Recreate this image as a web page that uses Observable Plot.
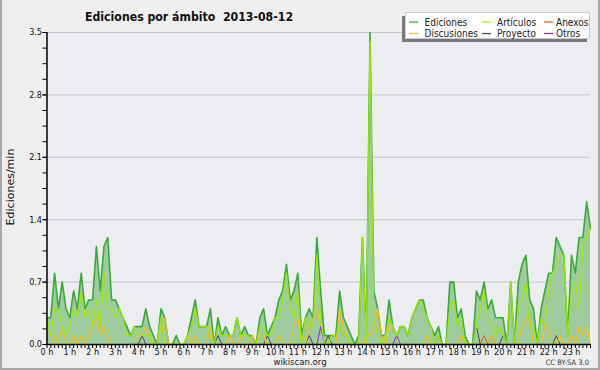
<!DOCTYPE html>
<html><head><meta charset="utf-8">
<script src="https://cdn.jsdelivr.net/npm/d3@7"></script>
<script src="https://cdn.jsdelivr.net/npm/@observablehq/plot@0.6"></script>
<style>
body{margin:0;background:#efefef;}
#chart{position:relative;width:600px;height:370px;overflow:hidden;}
#chart svg{position:absolute;left:0;top:0;}
#border{position:absolute;left:0;top:0;width:600px;height:370px;box-sizing:border-box;border-left:2px solid #a8a8a8;border-right:2px solid #a8a8a8;border-bottom:2px solid #a8a8a8;pointer-events:none;}
</style></head><body><div id="chart"><div id="border"></div></div>
<script>
const title = "Ediciones por ámbito  2013-08-12";
const yLabel = "Ediciones/min";
const hourTicks = [0,1,2,3,4,5,6,7,8,9,10,11,12,13,14,15,16,17,18,19,20,21,22,23];
const yTicks = [0, 0.7, 1.4, 2.1, 2.8, 3.5];
const seriesNames = ["Ediciones","Artículos","Anexos","Discusiones","Proyecto","Otros"];
const seriesColors = ["#3ea83e","#9be60f","#ee5a26","#f0c020","#4a4a4a","#8a2be2"];

// 10-minute buckets, edits per minute
const ediciones = [
0.3,0.3,0.8,0.4,0.7,0.4,0.3,0.6,0.4,0.8,0.4,0.5,
0.5,1.1,0.6,1.1,1.2,0.5,0.5,0.4,0.3,0.2,0.1,0.2,
0.2,0.2,0.4,0.2,0.1,0,0.4,0.3,0,0,0.1,0,
0,0.1,0.3,0.5,0.2,0.2,0.2,0.4,0,0.3,0.1,0.2,
0.1,0.1,0.3,0.1,0.2,0.1,0.1,0,0.3,0.4,0.1,0.2,
0.3,0.5,0.6,0.9,0.5,0.6,0.8,0.1,0.3,0.4,0.3,1.2,
0.6,0.1,0.1,0.1,0.1,0.6,0.3,0.2,0.1,0,0.1,1.2,
0.1,3.5,0.6,0.4,0.1,0.1,0.5,0.2,0.1,0.2,0.2,0.1,
0.3,0.4,0.5,0.5,0.3,0.2,0.1,0.2,0,0,0.7,0.7,
0.3,0.4,0.1,0,0,0.6,0.5,0.7,0.4,0.5,0.3,0.3,
0.3,0,0.7,0,0.7,0.9,1.0,0.5,0.4,0,0.4,0.6,
0.8,0.8,1.2,1.1,1.0,0.1,1.0,0.8,1.2,1.2,1.6,1.3];
const articulos = [
0.3,0.1,0.4,0.4,0.2,0.1,0.2,0.4,0.3,0.6,0.3,0.4,
0.2,0.5,0.2,0.8,0.4,0.4,0.3,0.4,0.3,0.1,0.1,0.2,
0.1,0.1,0.1,0.1,0,0,0.3,0,0,0,0,0,
0,0.1,0.2,0.4,0.2,0.2,0.2,0.1,0,0.2,0.1,0.1,
0.1,0.1,0.3,0.1,0.1,0.1,0,0,0.2,0.2,0.1,0.1,
0.3,0.3,0.5,0.8,0.4,0.3,0.6,0,0.3,0.2,0.2,1.0,
0.3,0,0,0.1,0.1,0.2,0.1,0.1,0,0,0,1.2,
0,3.4,0.3,0.1,0,0.1,0.3,0.2,0.1,0.2,0.2,0.1,
0.3,0.4,0.5,0.4,0.3,0.2,0,0.1,0,0,0.4,0.5,
0.2,0.3,0,0,0,0.2,0.4,0.6,0.3,0.2,0.1,0.2,
0.1,0,0.7,0,0.4,0.5,0.7,0.2,0.2,0,0.3,0.2,
0.6,0.8,0.9,1.0,1.0,0.1,0.6,0.7,0.4,1.1,1.2,1.3];
const discusiones = [
0,0,0.1,0,0.2,0,0,0.1,0,0.1,0,0.1,
0.2,0.3,0.1,0.2,0.1,0,0,0,0,0,0,0,
0.1,0.1,0.2,0.1,0,0,0.2,0.3,0,0,0,0,
0,0.1,0,0.1,0,0,0,0.2,0,0,0,0,
0.1,0,0,0.1,0,0,0.1,0,0.1,0.1,0,0,
0,0.1,0,0,0,0.2,0.3,0,0,0.2,0.3,0.4,
0.2,0,0,0,0,0.4,0.2,0.1,0,0,0,0,
0.1,0.1,0.2,0.4,0.1,0,0.2,0.2,0.1,0,0,0,
0,0,0,0,0.1,0,0,0,0,0,0,0,
0,0.1,0,0,0,0,0,0,0,0.1,0,0,
0,0,0,0,0,0.2,0.3,0.3,0,0,0,0.2,
0.2,0,0,0.1,0,0,0.1,0,0.2,0.1,0.2,0];
const proyecto = [
0,0,0,0,0,0,0,0,0,0,0,0,
0,0,0,0,0,0,0,0,0,0,0,0,
0,0.1,0,0,0,0,0,0,0,0,0,0,
0,0,0,0,0,0,0,0,0,0.1,0,0,
0,0,0,0,0,0,0,0,0,0,0.1,0,
0,0,0,0,0,0,0,0,0,0.1,0,0,
0,0,0.1,0,0,0,0,0,0,0,0,0,
0,0,0,0,0,0,0,0,0,0,0,0,
0,0,0,0,0,0,0,0.1,0,0,0,0,
0,0,0,0,0,0.2,0,0,0,0.1,0,0,
0.1,0,0,0,0,0,0,0,0,0,0,0,
0,0,0.1,0,0,0,0,0,0,0,0,0];
const otros = [
0,0,0,0,0,0,0,0,0,0,0,0,
0,0,0,0,0,0,0,0,0,0,0,0,
0,0,0,0,0,0,0,0,0,0,0,0,
0,0,0,0,0,0,0,0,0,0,0,0,
0,0,0,0,0,0,0,0,0,0,0,0,
0,0,0,0,0,0,0,0,0,0,0,0,
0.2,0,0,0,0,0,0,0,0,0,0,0,
0,0,0,0,0,0,0,0,0.1,0,0,0,
0,0,0,0,0,0,0,0,0,0,0,0,
0,0,0,0,0,0,0,0,0,0,0,0,
0,0,0,0,0,0,0,0,0,0,0,0,
0,0,0,0,0,0,0,0,0,0,0,0];
const anexos = [
0,0,0,0,0,0,0,0,0,0,0,0,
0,0,0,0,0,0,0,0,0,0,0,0,
0,0,0,0,0,0,0,0,0,0,0,0,
0,0,0,0,0,0,0,0,0,0,0,0,
0,0,0,0,0,0,0,0,0,0,0,0,
0,0,0,0,0,0,0,0,0,0,0,0,
0,0,0,0,0,0,0,0,0,0,0,0,
0,0,0,0,0,0,0,0,0,0,0,0,
0,0,0,0,0,0,0,0,0,0,0,0,
0,0,0,0,0,0,0,0.1,0,0,0,0,
0,0,0,0,0,0,0,0,0,0,0,0,
0,0,0,0,0,0,0,0,0,0,0,0];

const rows = ediciones.map((e,i)=>({t:i*10, e, a:articulos[i], d:discusiones[i], p:proyecto[i], o:otros[i], x:anexos[i]}));
const minorY = d3.range(0, 3.5001, 0.175);
const minorX = rows.map(r=>r.t);
const font = "'DejaVu Sans Condensed','DejaVu Sans',sans-serif";

const chart = Plot.plot({
  width:600, height:370,
  marginLeft:46.5, marginRight:10, marginTop:32, marginBottom:26,
  style:{background:"transparent", fontFamily:font, fontSize:"9px", color:"#111", overflow:"visible"},
  x:{domain:[0,1430]},
  y:{domain:[0,3.5]},
  marks:[
    Plot.frame({fill:"#ecedf0", stroke:null}),
    Plot.gridY(yTicks.slice(1), {stroke:"#c6c6c6", strokeOpacity:1}),
    Plot.areaY(rows,{x:"t", y:"e", fill:"#9fcc9f", fillOpacity:1}),
    Plot.lineY(rows,{x:"t", y:"e", stroke:seriesColors[0], strokeWidth:1.6}),
    Plot.lineY(rows,{x:"t", y:"p", stroke:seriesColors[4], strokeWidth:1}),
    Plot.lineY(rows,{x:"t", y:"d", stroke:seriesColors[3], strokeWidth:1.2}),
    Plot.lineY(rows,{x:"t", y:"x", stroke:seriesColors[2], strokeWidth:1}),
    Plot.lineY(rows,{x:"t", y:"o", stroke:seriesColors[5], strokeWidth:1}),
    Plot.lineY(rows,{x:"t", y:"a", stroke:seriesColors[1], strokeWidth:1.3}),
    Plot.ruleY([0],{stroke:"#000", strokeWidth:1.5}),
    Plot.ruleX([0],{stroke:"#000", strokeWidth:1.5}),
    Plot.axisY(minorY,{tickSize:4, tickFormat:()=>"", label:null, stroke:"#000"}),
    Plot.axisY(yTicks,{tickSize:4, tickPadding:1, tickFormat:d=>d.toFixed(1), label:null, fontSize:9, stroke:"#000"}),
    Plot.axisX(minorX,{tickSize:4, tickFormat:()=>"", label:null, stroke:"#000"}),
    Plot.axisX(hourTicks.map(h=>h*60),{tickSize:0, tickPadding:4, tickFormat:m=>(m/60)+" h", label:null, fontSize:9})
  ]
});
document.getElementById("chart").prepend(chart);

const svg = d3.select(chart);
svg.append("text").attr("x",85).attr("y",21).attr("text-anchor","start").attr("font-family",font).attr("font-weight","bold")
  .attr("font-size",12.2).attr("fill","#111").text(title);
svg.append("text").attr("transform","translate(14,187) rotate(-90)").attr("text-anchor","middle")
  .attr("font-family","'DejaVu Sans',sans-serif").attr("font-size",11).attr("fill","#111").text(yLabel);
svg.append("text").attr("x",300).attr("y",365).attr("text-anchor","middle").attr("font-family",font)
  .attr("font-size",9.5).attr("fill","#222").text("wikiscan.org");
svg.append("text").attr("x",589).attr("y",364.5).attr("text-anchor","end").attr("font-family",font)
  .attr("font-size",7.5).attr("fill","#333").text("CC BY-SA 3.0");

// legend
const lg = svg.append("g");
lg.append("rect").attr("x",402).attr("y",16).attr("width",185).attr("height",26).attr("fill","#7a7a7a");
lg.append("rect").attr("x",405.5).attr("y",12.5).attr("width",184).attr("height",26).attr("fill","#fff").attr("stroke","#c8c8c8");
const lx = [[409,424.5],[482,497],[544,556]];
const order = [[0,1,2],[3,4,5]];
order.forEach((row,r)=>{
  const y = r===0 ? 22 : 33.5;
  row.forEach((s,c)=>{
    lg.append("line").attr("x1",lx[c][0]).attr("x2",lx[c][0]+9).attr("y1",y).attr("y2",y)
      .attr("stroke",seriesColors[s]).attr("stroke-width",1.2);
    lg.append("text").attr("x",lx[c][1]).attr("y",y+3.5).attr("text-anchor","start").attr("font-family",font).attr("font-size",10)
      .attr("fill","#222").text(seriesNames[s]);
  });
});
</script></body></html>
